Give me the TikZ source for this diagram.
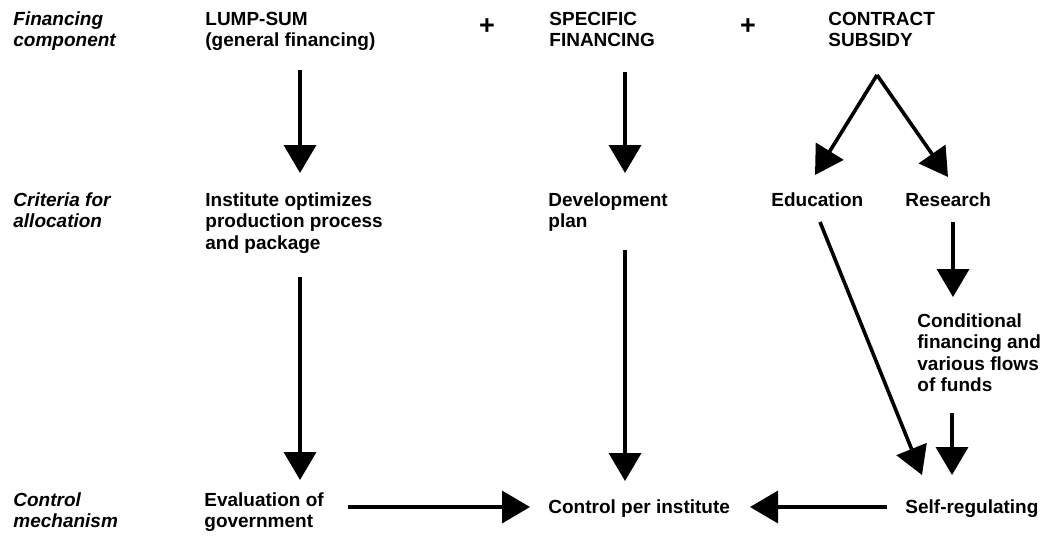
\documentclass[tikz,border=0pt]{standalone}
\usepackage{fontspec}
\setmainfont{Liberation Sans}
\usetikzlibrary{arrows.meta,calc}
\begin{document}
\begin{tikzpicture}[x=0.5pt,y=-0.5pt,
  txt/.style={anchor=base west, inner sep=0pt, align=left,
    font=\fontsize{9.5}{10.75}\selectfont\bfseries},
  lbl/.style={txt, font=\fontsize{9.5}{10.75}\selectfont\bfseries\itshape},
  plus/.style={inner sep=0pt, font=\fontsize{13.5}{13.5}\selectfont\bfseries},
  arr/.style={line width=1.8pt, -{Triangle[width=16pt,length=14pt]}},
]
\useasboundingbox (0,0) rectangle (1047,542);

% row labels (each node sits on the baseline of its last line)
\node[lbl] (fin)  at (13,46.5)  {Financing\\component};
\node[lbl] (crit) at (13,227.5) {Criteria for\\allocation};
\node[lbl] (ctl)  at (13,527.5) {Control\\mechanism};

% financing components
\node[txt] (lump)  at (205,46.5) {LUMP-SUM\\(general financing)};
\node[txt] (spec)  at (549,46.5) {SPECIFIC\\FINANCING};
\node[txt] (contr) at (828,46.5) {CONTRACT\\SUBSIDY};
\node[plus] (p1) at (487,27) {+};
\node[plus] (p2) at (748,27) {+};

% allocation criteria
\node[txt] (inst) at (205,249)   {Institute optimizes\\production process\\and package};
\node[txt] (dev)  at (548,227.5) {Development\\plan};
\node[txt] (edu)  at (771,206)   {Education};
\node[txt] (res)  at (905,206)   {Research};
\node[txt] (cond) at (917,391.5) {Conditional\\financing and\\various flows\\of funds};

% control mechanisms
\node[txt] (eval) at (204,527.5) {Evaluation of\\government};
\node[txt] (cpi)  at (548,513)   {Control per institute};
\node[txt] (self) at (905,513)   {Self-regulating};

% connectors
\draw[arr] ($(lump.base west)+(95,23.5)$) -- ($(inst.base west)+(95,-76)$);
\draw[arr] ($(inst.base west)+(95,28)$) -- ($(eval.base west)+(96,-47.5)$);
\draw[arr] ($(spec.base west)+(76,25.5)$) -- ($(dev.base west)+(77,-54.5)$);
\draw[arr] ($(dev.base west)+(77,22.5)$) -- ($(cpi.base west)+(77,-32)$);
\draw[arr] ($(contr.base west)+(49,28.5)$) -- ($(edu.base west)+(44,-31)$);
\draw[arr] ($(contr.base west)+(49,28.5)$) -- ($(res.base west)+(43,-29)$);
\draw[arr] ($(res.base west)+(48,16)$) -- ($(cond.base west)+(36,-94.5)$);
\draw[arr] ($(cond.base west)+(35,21.5)$) -- ($(self.base west)+(47,-38)$);
\draw[arr] ($(edu.base west)+(49,16)$) -- ($(self.base west)+(17,-38)$);
\draw[arr] ($(self.base west)+(-18,-6)$) -- ($(cpi.base west)+(202,-6)$);
\draw[arr] ($(eval.base west)+(144,-20.5)$) -- ($(cpi.base west)+(-18,-6)$);
\end{tikzpicture}
\end{document}
